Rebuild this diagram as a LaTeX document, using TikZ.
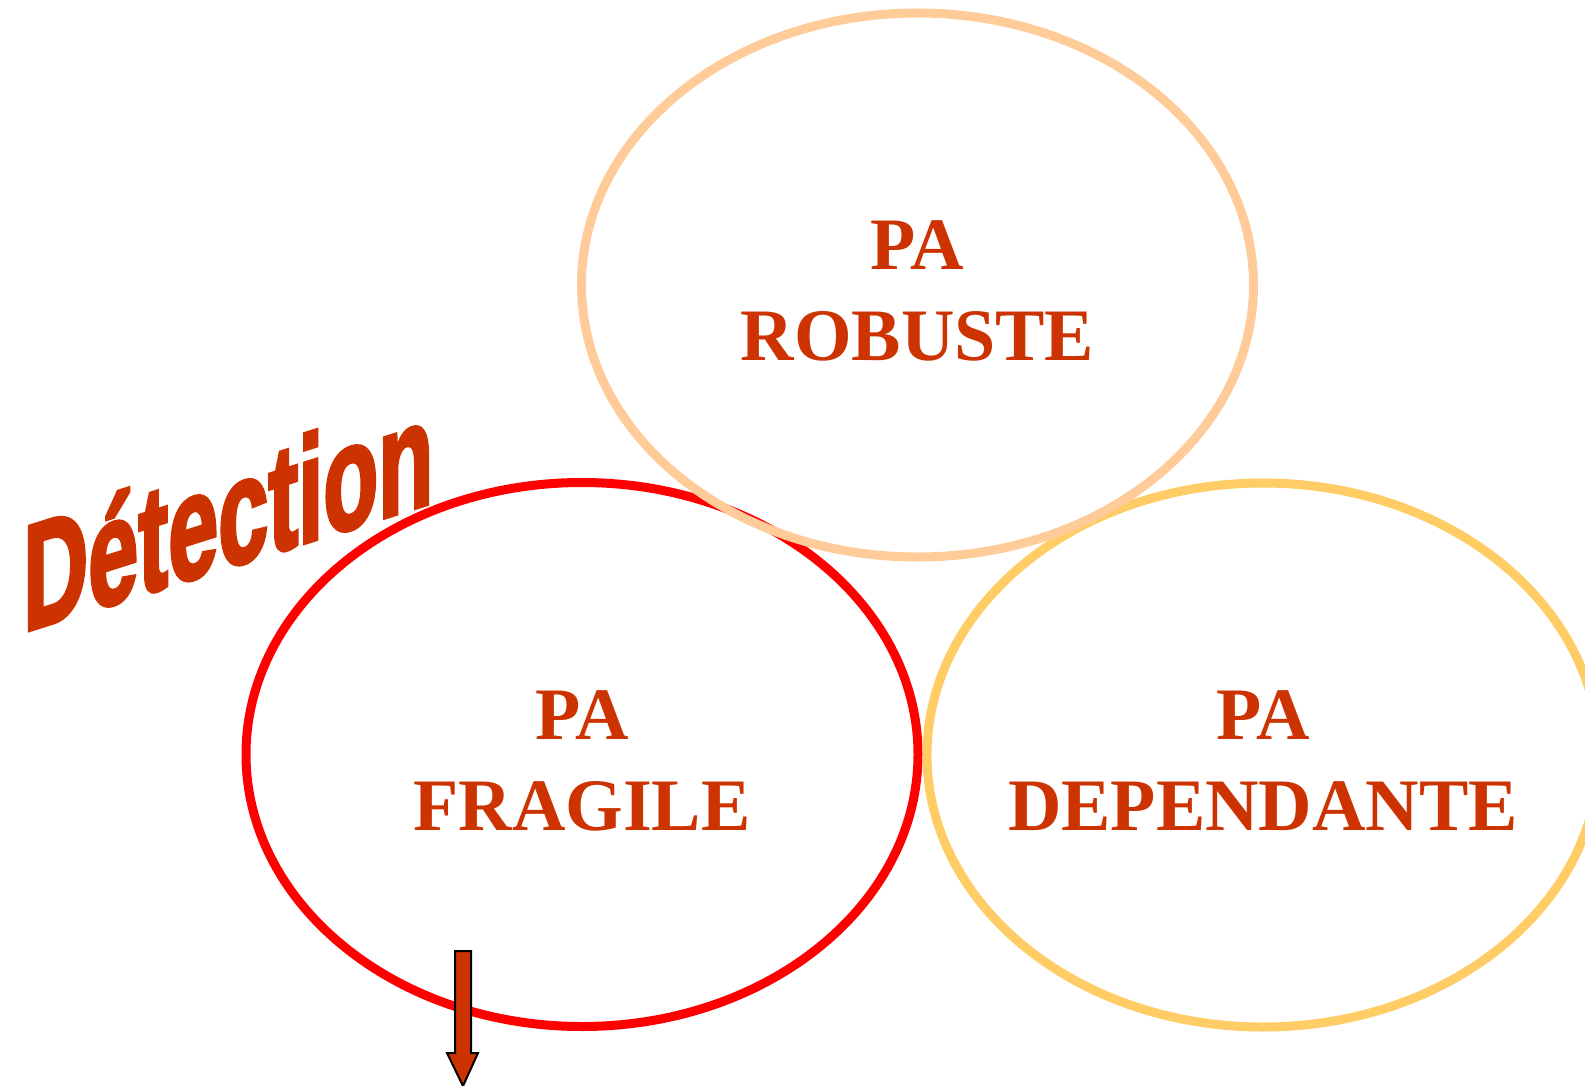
\documentclass[tikz,border=0pt]{standalone}
\usepackage{fontspec}
\setmainfont{Liberation Serif}
\newfontfamily\detfont[FakeBold=3]{Liberation Sans Bold}
\usetikzlibrary{shapes.geometric}
\definecolor{txtred}{HTML}{CC3300}
\definecolor{peach}{HTML}{FFCC99}
\definecolor{fragred}{HTML}{FF0000}
\definecolor{goldy}{HTML}{FFCC66}
\tikzset{
  ring/.style={ellipse, line width=4.5pt, minimum width=336pt, minimum height=272pt,
    inner sep=0pt},
  patext/.style={inner sep=0pt, align=center, text=txtred,
    font=\fontsize{37}{45.5}\selectfont\bfseries},
}
\begin{document}
\begin{tikzpicture}[x=0.5pt,y=-0.5pt]
\useasboundingbox (0,0) rectangle (1585,1086);
\clip (0,0) rectangle (1585,1086);
\node[ring, draw=fragred] (fragile) at (582,754.5) {};
\node[ring, draw=goldy] (dependante) at (1263,755) {};
\node[ring, draw=peach] (robuste) at (917.5,285) {};
\node[patext] (tfragile) at ([yshift=-3pt]fragile.center) {PA\\FRAGILE};
\node[patext] (tdependante) at ([yshift=-3pt]dependante.center) {PA\\DEPENDANTE};
\node[patext] (trobuste) at ([yshift=-3pt]robuste.center) {PA\\ROBUSTE};
\node[anchor=base west, inner sep=0pt, text=txtred, xscale=0.6, yslant=0.19,
  font=\detfont\fontsize{75}{75}\selectfont] (detection) at (23,632) {Détection};
\coordinate (arrtop) at (463,951);
\draw[fill=txtred, draw=black, line width=1pt]
  (455,951) -- (471,951) -- (471,1053) -- (478,1053) -- (463,1086)
  -- (447,1053) -- (455,1053) -- cycle;
\end{tikzpicture}
\end{document}
